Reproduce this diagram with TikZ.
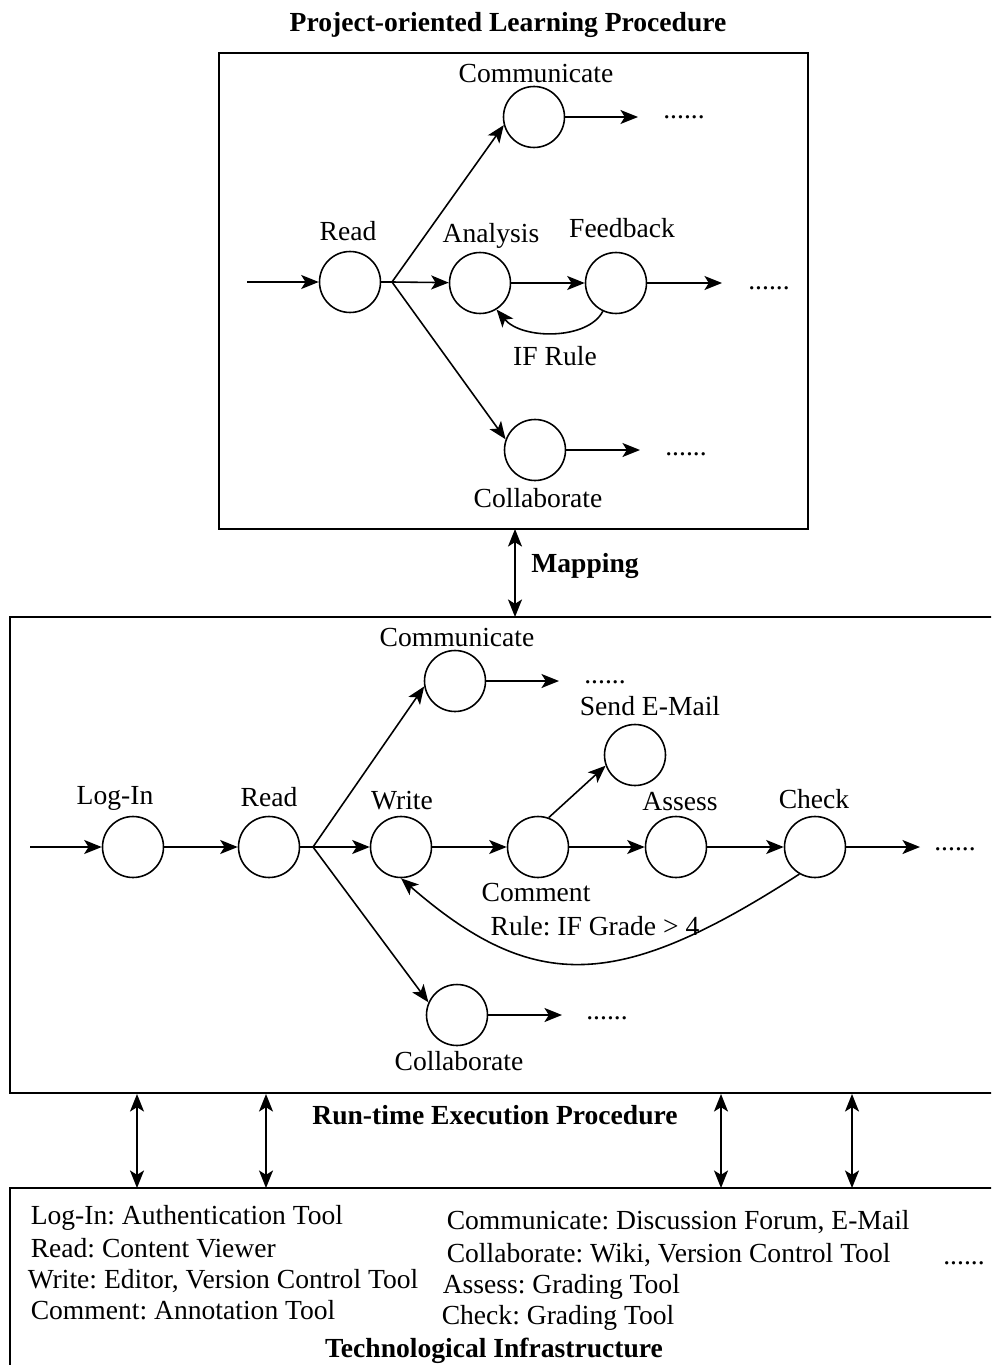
\documentclass[tikz,border=0pt]{standalone}
\usepackage{fontspec}
\setmainfont{Liberation Serif}
\usetikzlibrary{arrows.meta}

\begin{document}
\frenchspacing
\begin{tikzpicture}[x=0.02cm, y=-0.02cm, line width=0.9pt,
        >={Stealth[length=10pt,width=8pt,inset=2.5pt]},
        state/.style={draw, circle, minimum size=1.22cm, inner sep=0pt},
        lbl/.style={anchor=base, inner sep=0pt, font=\fontsize{15.7}{19}\selectfont},
        tool/.style={anchor=base west, inner sep=0pt, font=\fontsize{15.7}{19}\selectfont},
        head/.style={anchor=base, inner sep=0pt, font=\fontsize{15.7}{19}\selectfont\bfseries},
        frame/.style={line width=1.2pt}]
                \useasboundingbox (0,0) rectangle (991,1365);
                \clip (0,0) rectangle (991,1365);
                % learning procedure
                \node[head] (t-learn) at (508,32) {Project-oriented Learning Procedure};
                \draw[frame] (219,53) rectangle (808,529);
                \node[state] (read1) at (350,282) {};
                \node[state] (an) at (480,283) {};
                \node[state] (fb) at (616,283) {};
                \node[state] (comm1) at (534,117) {};
                \node[state] (coll1) at (535,450) {};
                \node[lbl] (l-read1) at (348,240) {Read};
                \node[lbl] (l-an) at (491,242) {Analysis};
                \node[lbl] (l-fb) at (622,237) {Feedback};
                \node[lbl] (l-comm1) at (536,83) {Communicate};
                \node[lbl] (l-coll1) at (538,507) {Collaborate};
                \node[lbl] (l-if) at (555,365) {IF Rule};
                \node[lbl] (d1) at (684,119) {......};
                \node[lbl] (d2) at (769,289) {......};
                \node[lbl] (d3) at (686,455) {......};
                \coordinate (in1) at (247,282);
                \coordinate (b1) at (392,282);
                \coordinate (e1) at (638,117);
                \coordinate (e2) at (722,283);
                \coordinate (e3) at (640,450);
                \draw[->] (in1) -- (read1);
                \draw (read1) -- (b1);
                \draw[->] (b1) -- (comm1.195);
                \draw[->] (b1) -- (an);
                \draw[->] (b1) -- (coll1.160);
                \draw[->] (an) -- (fb);
                \draw[->] (fb.245) .. controls (588,340) and (522,340) .. (an.302);
                \draw[->] (comm1) -- (e1);
                \draw[->] (fb) -- (e2);
                \draw[->] (coll1) -- (e3);
                % mapping
                \coordinate (m1) at (515,529);
                \coordinate (m2) at (515,617);
                \draw[<->] (m1) -- (m2);
                \node[head] (t-map) at (585,572) {Mapping};
                % run-time execution procedure
                \draw[frame] (10,617) rectangle (1000,1093);
                \node[state] (login) at (133,847) {};
                \node[state] (read2) at (269,847) {};
                \node[state] (write) at (401,847) {};
                \node[state] (comm2) at (455,681) {};
                \node[state] (coll2) at (457,1015) {};
                \node[state] (comment) at (538,847) {};
                \node[state] (mail) at (635,755) {};
                \node[state] (assess) at (676,847) {};
                \node[state] (check) at (815,847) {};
                \node[lbl] (l-login) at (115,804) {Log-In};
                \node[lbl] (l-read2) at (269,806) {Read};
                \node[lbl] (l-write) at (402,809) {Write};
                \node[lbl] (l-comm2) at (457,646) {Communicate};
                \node[lbl] (l-coll2) at (459,1070) {Collaborate};
                \node[lbl] (l-comment) at (536,901) {Comment};
                \node[lbl] (l-mail) at (650,715) {Send E-Mail};
                \node[lbl] (l-assess) at (680,810) {Assess};
                \node[lbl] (l-check) at (814,808) {Check};
                \node[lbl] (l-rule) at (595,935) {Rule: IF Grade > 4};
                \node[lbl] (d4) at (605,683) {......};
                \node[lbl] (d5) at (607,1019) {......};
                \node[lbl] (d6) at (955,850) {......};
                \coordinate (in2) at (30,847);
                \coordinate (b2) at (313,847);
                \coordinate (e4) at (559,681);
                \coordinate (e5) at (562,1015);
                \coordinate (e6) at (920,847);
                \draw[->] (in2) -- (login);
                \draw[->] (login) -- (read2);
                \draw (read2) -- (b2);
                \draw[->] (b2) -- (comm2.190);
                \draw[->] (b2) -- (write);
                \draw[->] (b2) -- (coll2.156);
                \draw[->] (write) -- (comment);
                \draw[->] (comment.70) -- (mail.200);
                \draw[->] (comment) -- (assess);
                \draw[->] (assess) -- (check);
                \draw[->] (check.240) .. controls (620,990) and (535,995) .. (write.south);
                \draw[->] (comm2) -- (e4);
                \draw[->] (coll2) -- (e5);
                \draw[->] (check) -- (e6);
                \node[head] (t-run) at (495,1124) {Run-time Execution Procedure};
                \foreach \x [count=\i] in {137,266,721,852} {
                    \coordinate (u\i) at (\x,1094);
                    \coordinate (v\i) at (\x,1188);
                    \draw[<->] (u\i) -- (v\i);
                }
                % technological infrastructure
                \draw[frame] (10,1188) rectangle (1000,1400);
                \node[tool] (k1) at (30,1224) {Log-In: Authentication Tool};
                \node[tool] (k2) at (30,1257) {Read: Content Viewer};
                \node[tool] (k3) at (27,1288) {Write: Editor, Version Control Tool};
                \node[tool] (k4) at (30,1319) {Comment: Annotation Tool};
                \node[tool] (k5) at (446,1229) {Communicate: Discussion Forum, E-Mail};
                \node[tool] (k6) at (446,1262) {Collaborate: Wiki, Version Control Tool};
                \node[tool] (k7) at (442,1293) {Assess: Grading Tool};
                \node[tool] (k8) at (441,1324) {Check: Grading Tool};
                \node[lbl] (d7) at (964,1264) {......};
                \node[head] (t-tech) at (494,1357) {Technological Infrastructure};
        \end{tikzpicture}
\end{document}
